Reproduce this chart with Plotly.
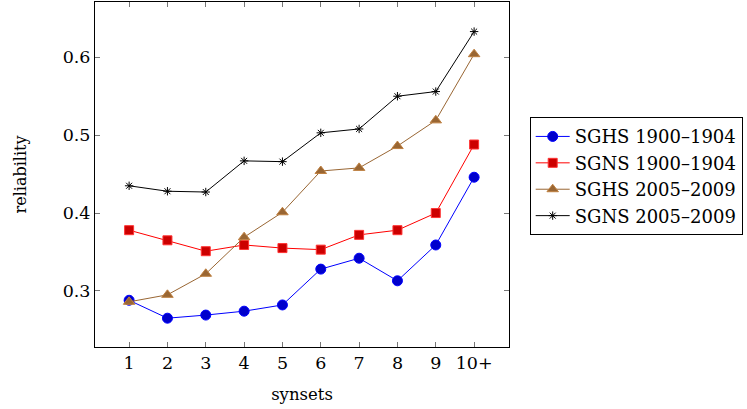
import plotly.graph_objects as go

categories = ["1", "2", "3", "4", "5", "6", "7", "8", "9", "10+"]
x_pos = [1, 2, 3, 4, 5, 6, 7, 8, 9, 10]

sghs_1900 = [0.288, 0.265, 0.269, 0.274, 0.282, 0.328, 0.342, 0.313, 0.359, 0.446]
sgns_1900 = [0.378, 0.365, 0.351, 0.359, 0.355, 0.353, 0.372, 0.378, 0.400, 0.488]
sghs_2005 = [0.286, 0.295, 0.322, 0.369, 0.401, 0.454, 0.458, 0.486, 0.519, 0.604]
sgns_2005 = [0.435, 0.428, 0.427, 0.467, 0.466, 0.503, 0.508, 0.550, 0.556, 0.633]

names = ["SGHS 1900–1904", "SGNS 1900–1904", "SGHS 2005–2009", "SGNS 2005–2009"]
y_ticks = [0.3, 0.4, 0.5, 0.6]

FONT = "'DejaVu Serif', serif"

fig = go.Figure()
fig.add_trace(go.Scatter(x=x_pos, y=sghs_1900, name=names[0], mode="lines+markers",
                         line=dict(color="#0000ff", width=1),
                         marker=dict(symbol="circle", size=10, color="#0000cc",
                                     line=dict(color="#0000ff", width=1))))
fig.add_trace(go.Scatter(x=x_pos, y=sgns_1900, name=names[1], mode="lines+markers",
                         line=dict(color="#ff0000", width=1),
                         marker=dict(symbol="square", size=9, color="#cc0000",
                                     line=dict(color="#ff3333", width=1))))
fig.add_trace(go.Scatter(x=x_pos, y=sghs_2005, name=names[2], mode="lines+markers",
                         line=dict(color="#996633", width=1),
                         marker=dict(symbol="triangle-up", size=10, color="#996633",
                                     line=dict(color="#bf8040", width=1))))
fig.add_trace(go.Scatter(x=x_pos, y=sgns_2005, name=names[3], mode="lines+markers",
                         line=dict(color="#000000", width=1),
                         marker=dict(symbol="asterisk-open", size=7, color="#000000",
                                     line=dict(color="#000000", width=1))))

fig.update_layout(
    width=747, height=409,
    margin=dict(l=95, r=238, t=2, b=62),
    paper_bgcolor="white", plot_bgcolor="white",
    font=dict(family=FONT, size=17.5, color="black"),
    showlegend=True,
    legend=dict(x=1.05, y=0.666, xanchor="left", yanchor="top",
                bordercolor="black", borderwidth=1, bgcolor="white",
                font=dict(family=FONT, size=18), tracegroupgap=0,
                itemwidth=34),
)
fig.update_xaxes(
    range=[0.11, 10.91], tickmode="array", tickvals=x_pos, ticktext=categories,
    ticks="inside", ticklen=5, tickcolor="#777", mirror="allticks",
    showline=True, linecolor="black", linewidth=1, showgrid=False, zeroline=False,
    title=dict(text="synsets", font=dict(family=FONT, size=16.5), standoff=16),
)
fig.update_yaxes(
    range=[0.228, 0.671], tickmode="array", tickvals=y_ticks,
    ticktext=[f"{v:.1f}" for v in y_ticks],
    ticks="inside", ticklen=5, tickcolor="#777", mirror="allticks",
    showline=True, linecolor="black", linewidth=1, showgrid=False, zeroline=False,
    title=dict(text="reliability", font=dict(family=FONT, size=16), standoff=32),
)

fig.write_html("out.html")
